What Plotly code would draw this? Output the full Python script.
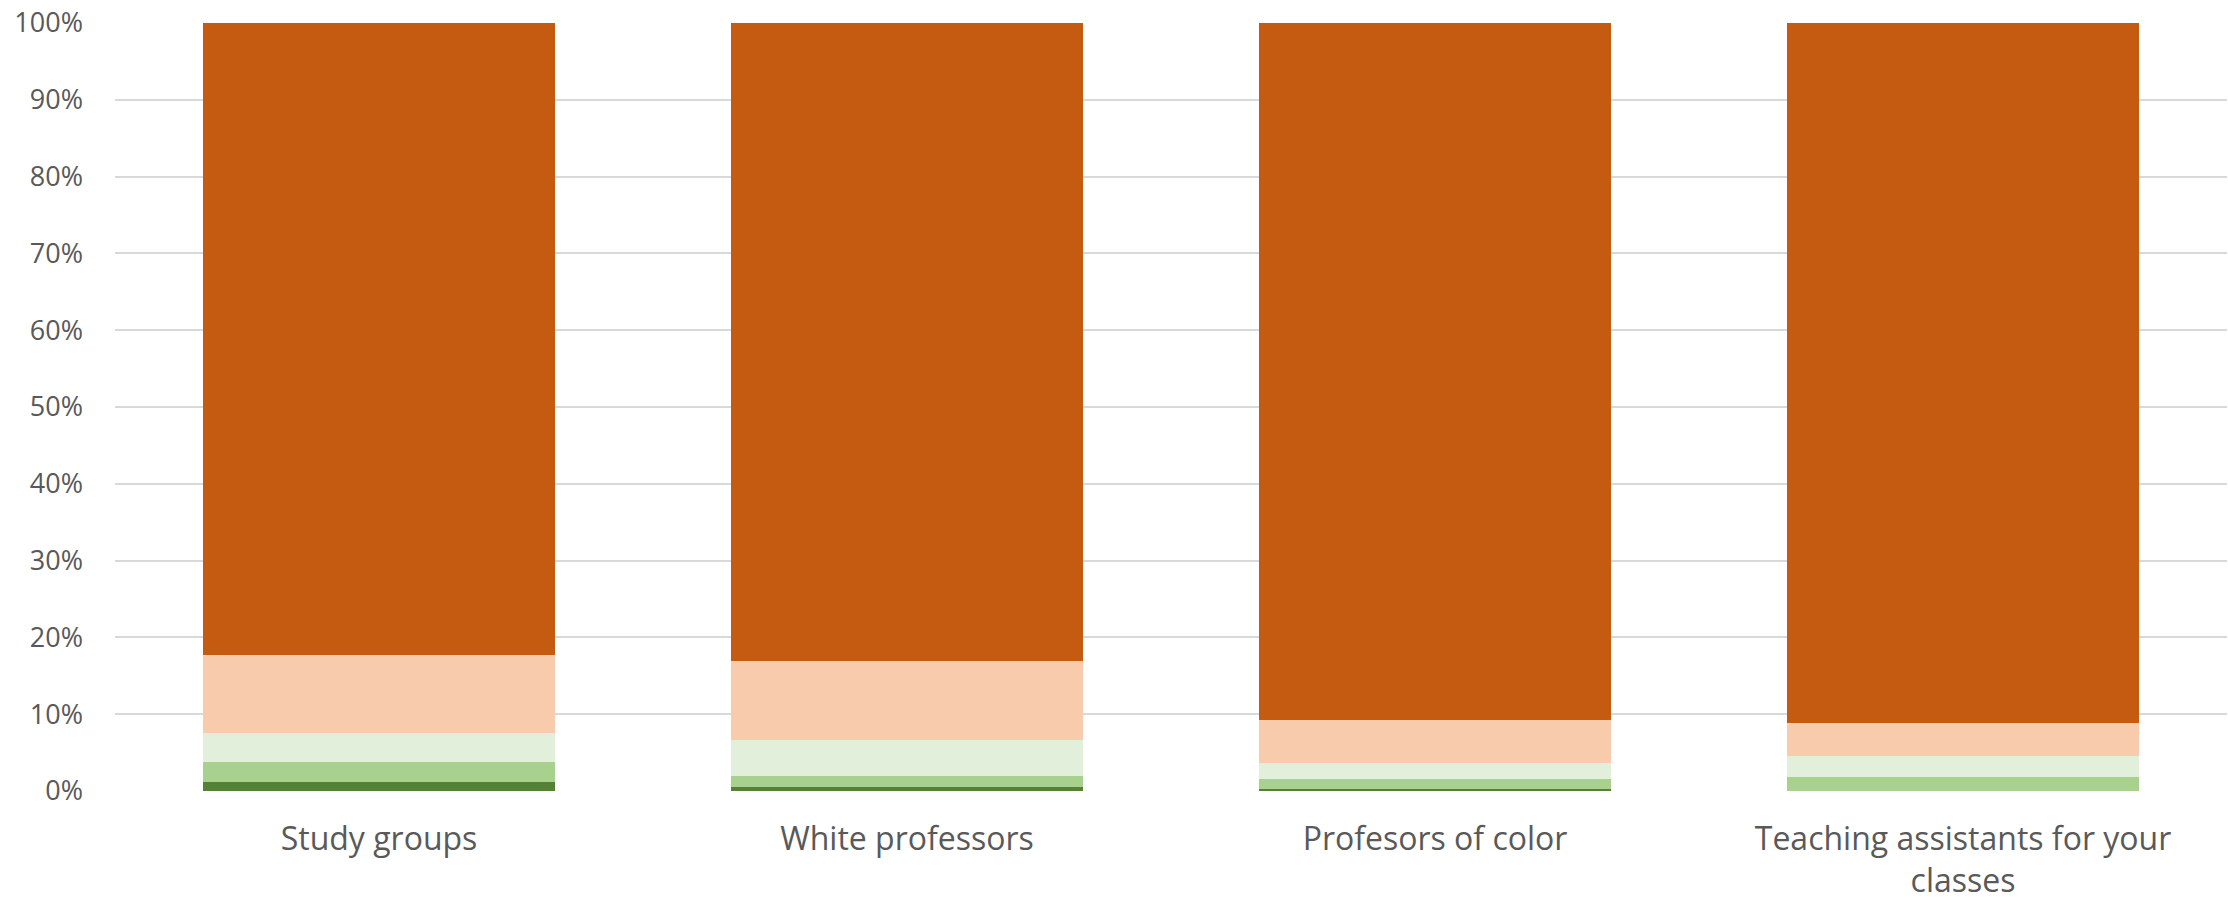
import plotly.graph_objects as go

categories = ["Study groups", "White professors", "Profesors of color", "Teaching assistants for your<br>classes"]

# stacked shares (percent), bottom to top
seg1 = [1.2, 0.5, 0.26, 0.0]
seg2 = [2.6, 1.5, 1.3, 1.8]
seg3 = [3.8, 4.7, 2.1, 2.7]
seg4 = [10.1, 10.25, 5.6, 4.4]
seg5 = [82.3, 83.05, 90.74, 91.1]

series = [
    ("Segment 1", seg1, "#548235"),
    ("Segment 2", seg2, "#A9D18E"),
    ("Segment 3", seg3, "#E2EFDA"),
    ("Segment 4", seg4, "#F8CBAD"),
    ("Segment 5", seg5, "#C55A11"),
]

fig = go.Figure()
for name, vals, color in series:
    fig.add_trace(go.Bar(
        x=categories, y=[v / 100 for v in vals], name=name,
        marker=dict(color=color, line=dict(width=0)),
    ))

fig.update_layout(
    barmode="stack",
    bargap=1 / 3,
    width=2228, height=900,
    margin=dict(l=115, r=1, t=23, b=109),
    plot_bgcolor="white", paper_bgcolor="white",
    showlegend=False,
    font=dict(family="Open Sans", color="#595959", size=27),
)
fig.update_yaxes(
    range=[0, 1], tickformat=".0%", dtick=0.1,
    showgrid=True, gridcolor="#D9D9D9", gridwidth=1.5,
    zeroline=False, showline=False, ticklabelstandoff=31,
    tickfont=dict(size=27, color="#595959"), automargin=False,
)
fig.update_xaxes(
    showline=False, ticks="", tickfont=dict(size=32, color="#595959"),
    ticklabelstandoff=26, automargin=False,
)
fig.write_html("out.html")
